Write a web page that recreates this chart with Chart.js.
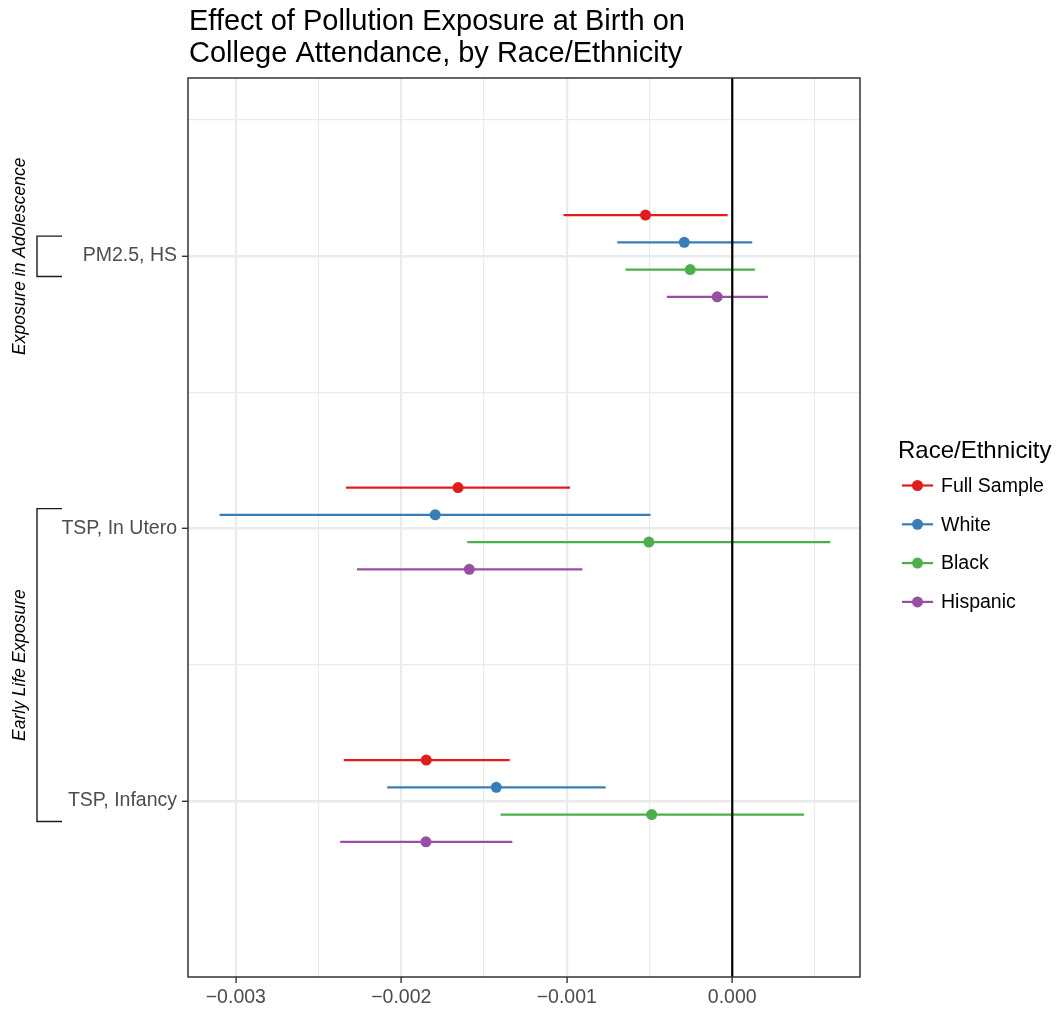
<!DOCTYPE html>
<html>
<head>
<meta charset="utf-8">
<script src="https://cdn.jsdelivr.net/npm/chart.js@4/dist/chart.umd.min.js"></script>
<style>
html,body{margin:0;padding:0;background:#fff;}
#wrap{width:1060px;height:1010px;position:relative;}
</style>
</head>
<body>
<div id="wrap"><canvas id="c" width="1060" height="1010"></canvas></div>
<script>
// ---- data ----
const categories = ['PM2.5, HS', 'TSP, In Utero', 'TSP, Infancy'];
const seriesNames = ['Full Sample', 'White', 'Black', 'Hispanic'];
const fullEst  = [-0.000524, -0.001657, -0.001849];
const fullLo   = [-0.001020, -0.002334, -0.002348];
const fullHi   = [-0.000028, -0.000980, -0.001345];
const whiteEst = [-0.000290, -0.001795, -0.001426];
const whiteLo  = [-0.000695, -0.003098, -0.002085];
const whiteHi  = [ 0.000121, -0.000494, -0.000765];
const blackEst = [-0.000254, -0.000504, -0.000487];
const blackLo  = [-0.000645, -0.001601, -0.001400];
const blackHi  = [ 0.000137,  0.000593,  0.000433];
const hispEst  = [-0.000091, -0.001589, -0.001851];
const hispLo   = [-0.000395, -0.002268, -0.002369];
const hispHi   = [ 0.000216, -0.000906, -0.001329];
const xTickValues = [-0.003, -0.002, -0.001, 0];
const xTickLabels = ['\u22120.003', '\u22120.002', '\u22120.001', '0.000'];
const groupNames = ['Exposure in Adolescence', 'Early Life Exposure'];
const groupFirst = [0, 1];
const groupLast  = [0, 2];
const titleLines = ['Effect of Pollution Exposure at Birth on', 'College Attendance, by Race/Ethnicity'];
const legendTitle = 'Race/Ethnicity';

// ---- styling ----
const colors = ['#E41A1C', '#377EB8', '#4DAF4A', '#984EA3'];
const dodge = [-0.15, -0.05, 0.05, 0.15];
const FONT = '"Liberation Sans", Arial, Helvetica, sans-serif';

const estAll = [fullEst, whiteEst, blackEst, hispEst];
const loAll = [fullLo, whiteLo, blackLo, hispLo];
const hiAll = [fullHi, whiteHi, blackHi, hispHi];

const datasets = seriesNames.map((name, s) => ({
  label: name,
  data: categories.map((c, i) => ({ x: estAll[s][i], y: i + 1 + dodge[s] })),
  backgroundColor: colors[s],
  borderColor: colors[s],
  borderWidth: 0,
  pointRadius: 5.5,
  pointHoverRadius: 5.5
}));

const isInt = v => Math.abs(v - Math.round(v)) < 1e-9;
const xLabelFor = v => {
  for (let k = 0; k < xTickValues.length; k++) {
    if (Math.abs(v - xTickValues[k]) < 1e-9) return xTickLabels[k];
  }
  return '';
};
const isMajorX = v => xLabelFor(v) !== '';

const decorPlugin = {
  id: 'decor',
  beforeDatasetsDraw(chart) {
    const ctx = chart.ctx, xs = chart.scales.x, ys = chart.scales.y;
    const a = chart.chartArea;
    ctx.save();
    ctx.beginPath();
    ctx.rect(a.left, a.top, a.right - a.left, a.bottom - a.top);
    ctx.clip();
    ctx.lineWidth = 2.2;
    ctx.lineCap = 'butt';
    for (let s = 0; s < seriesNames.length; s++) {
      ctx.strokeStyle = colors[s];
      for (let i = 0; i < categories.length; i++) {
        const y = ys.getPixelForValue(i + 1 + dodge[s]);
        ctx.beginPath();
        ctx.moveTo(xs.getPixelForValue(loAll[s][i]), y);
        ctx.lineTo(xs.getPixelForValue(hiAll[s][i]), y);
        ctx.stroke();
      }
    }
    ctx.restore();
  },
  afterDatasetsDraw(chart) {
    const ctx = chart.ctx, xs = chart.scales.x, ys = chart.scales.y;
    const a = chart.chartArea;
    ctx.save();
    // zero line
    const x0 = xs.getPixelForValue(0);
    ctx.strokeStyle = '#000';
    ctx.lineWidth = 2.2;
    ctx.beginPath();
    ctx.moveTo(x0, a.top);
    ctx.lineTo(x0, a.bottom);
    ctx.stroke();
    // panel border
    ctx.strokeStyle = '#333333';
    ctx.lineWidth = 1.5;
    ctx.strokeRect(a.left, a.top, a.right - a.left, a.bottom - a.top);
    ctx.restore();
  },
  afterDraw(chart) {
    const ctx = chart.ctx, ys = chart.scales.y;
    const a = chart.chartArea;
    ctx.save();
    // title
    ctx.fillStyle = '#000';
    ctx.font = '29px ' + FONT;
    ctx.textAlign = 'left';
    ctx.textBaseline = 'alphabetic';
    ctx.fillText(titleLines[0], a.left + 1, 30);
    ctx.fillText(titleLines[1], a.left + 1, 61.5);
    // group brackets
    ctx.strokeStyle = '#1a1a1a';
    ctx.lineWidth = 1.4;
    for (let g = 0; g < groupNames.length; g++) {
      const yTop = ys.getPixelForValue(groupFirst[g] + 1 - 0.073);
      const yBot = ys.getPixelForValue(groupLast[g] + 1 + 0.075);
      ctx.beginPath();
      ctx.moveTo(62, yTop);
      ctx.lineTo(37, yTop);
      ctx.lineTo(37, yBot);
      ctx.lineTo(62, yBot);
      ctx.stroke();
      ctx.save();
      ctx.translate(24.5, (yTop + yBot) / 2);
      ctx.rotate(-Math.PI / 2);
      ctx.font = 'italic 17.5px ' + FONT;
      ctx.fillStyle = '#000';
      ctx.textAlign = 'center';
      ctx.textBaseline = 'alphabetic';
      ctx.fillText(groupNames[g], 0, 0);
      ctx.restore();
    }
    // legend
    ctx.fillStyle = '#000';
    ctx.font = '24px ' + FONT;
    ctx.textAlign = 'left';
    ctx.fillText(legendTitle, 898, 458);
    ctx.font = '19.5px ' + FONT;
    ctx.textBaseline = 'middle';
    for (let s = 0; s < seriesNames.length; s++) {
      const y = 485.5 + s * 38.8;
      ctx.strokeStyle = colors[s];
      ctx.lineWidth = 2.2;
      ctx.beginPath();
      ctx.moveTo(902, y);
      ctx.lineTo(933, y);
      ctx.stroke();
      ctx.fillStyle = colors[s];
      ctx.beginPath();
      ctx.arc(917.5, y, 5.5, 0, Math.PI * 2);
      ctx.fill();
      ctx.fillStyle = '#000';
      ctx.fillText(seriesNames[s], 941, y + 1);
    }
    ctx.restore();
  }
};

const bgPlugin = {
  id: 'bg',
  beforeDraw(chart) {
    const ctx = chart.ctx;
    ctx.save();
    ctx.fillStyle = '#fff';
    ctx.fillRect(0, 0, chart.width, chart.height);
    ctx.restore();
  }
};

new Chart(document.getElementById('c'), {
  type: 'scatter',
  data: { datasets },
  options: {
    responsive: false,
    animation: false,
    events: [],
    layout: { padding: { left: 0, right: 200, top: 78, bottom: 0 } },
    plugins: { legend: { display: false }, title: { display: false }, tooltip: { enabled: false } },
    scales: {
      x: {
        type: 'linear',
        min: -0.003289,
        max: 0.000772,
        afterBuildTicks: sc => {
          const t = [];
          for (let k = 0; k < 8; k++) t.push({ value: -0.003 + k * 0.0005 });
          sc.ticks = t;
        },
        afterFit: sc => { sc.height = 33; },
        border: { display: false },
        grid: {
          color: '#ebebeb',
          lineWidth: c => (c.tick && isMajorX(c.tick.value)) ? 2.2 : 1.1,
          tickColor: c => (c.tick && isMajorX(c.tick.value)) ? '#333333' : 'rgba(0,0,0,0)',
          tickLength: 6,
          tickWidth: 1.4
        },
        ticks: {
          autoSkip: false,
          maxRotation: 0,
          padding: 3,
          color: '#4d4d4d',
          font: { family: FONT, size: 19.5 },
          callback: v => xLabelFor(v)
        }
      },
      y: {
        type: 'linear',
        reverse: true,
        min: 0.3468,
        max: 3.6459,
        afterBuildTicks: sc => {
          sc.ticks = [0.5, 1, 1.5, 2, 2.5, 3].map(v => ({ value: v }));
        },
        afterFit: sc => { sc.width = 188; },
        border: { display: false },
        grid: {
          color: '#ebebeb',
          lineWidth: c => (c.tick && isInt(c.tick.value)) ? 2.6 : 1.2,
          tickColor: c => (c.tick && isInt(c.tick.value)) ? '#333333' : 'rgba(0,0,0,0)',
          tickLength: 6,
          tickWidth: 1.4
        },
        ticks: {
          autoSkip: false,
          padding: 5,
          color: '#4d4d4d',
          font: { family: FONT, size: 19.5 },
          callback: v => isInt(v) ? categories[Math.round(v) - 1] : ''
        }
      }
    }
  },
  plugins: [bgPlugin, decorPlugin]
});
</script>
</body>
</html>
